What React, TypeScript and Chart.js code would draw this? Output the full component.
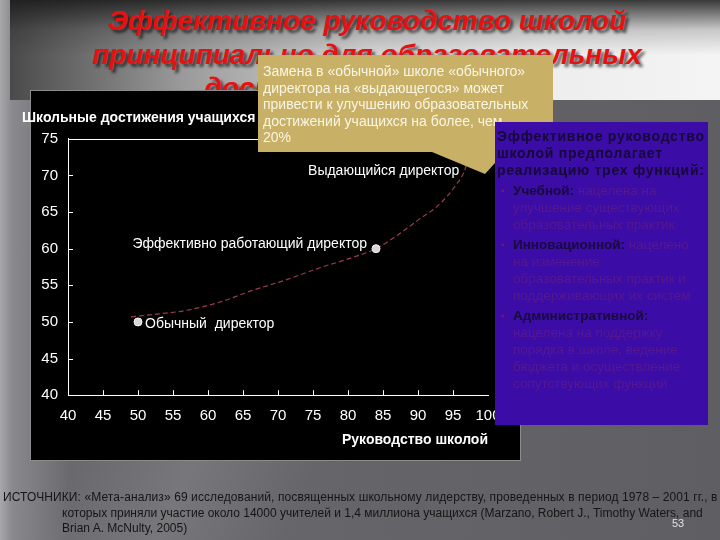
import React, { useEffect, useRef } from "react";
import { Chart, registerables } from "chart.js";

Chart.register(...registerables);

// ---- data ----
const xMin = 40;
const xMax = 100;
const yMin = 40;
const yMax = 75;
const tickStep = 5;

const curveX = [49, 53, 57, 62, 66, 71, 76, 80, 84, 87, 90, 92.5, 94.2, 95.5, 96.5, 97.3, 98];
const curveY = [50.7, 51.1, 51.6, 52.8, 54.2, 55.7, 57.4, 58.6, 60.0, 61.8, 63.9, 65.6, 67.2, 68.8, 70.3, 72.6, 75];

const pointX = [50, 84, 96.6];
const pointY = [50, 60, 70.4];
const pointLabels = ["Обычный  директор", "Эффективно работающий директор", "Выдающийся директор"];
const pointRadii = [4, 4, 0];

const yAxisTitle = "Школьные достижения учащихся";
const xAxisTitle = "Руководство школой";

const slideTitleLines = ["Эффективное руководство школой", "принципиально для образовательных", "достижений учащихся"];
const calloutLines = [
  "Замена в «обычной» школе «обычного»",
  "директора на «выдающегося» может",
  "привести к улучшению образовательных",
  "достижений учащихся на более,  чем",
  "20%",
];
const boxHeading = ["Эффективное руководство", "школой предполагает", "реализацию трех функций:"];
const boxBullets = [
  { term: "Учебной:", lines: [" нацелена на", "улучшение существующих", "образовательных практик"] },
  { term: "Инновационной:", lines: [" нацелено", "на изменение", "образовательных практик и", "поддерживающих их систем"] },
  { term: "Административной:", lines: ["", "нацелена на поддержку", "порядка в школе, ведение", "бюджета и осуществление", "сопутствующих функций"] },
];
const footerLines = [
  "ИСТОЧНИКИ: «Мета-анализ» 69 исследований, посвященных школьному лидерству, проведенных в период 1978 – 2001 гг., в",
  "которых приняли участие около 14000 учителей и 1,4 миллиона учащихся (Marzano, Robert J., Timothy Waters, and",
  "Brian A. McNulty, 2005)",
];
const pageNumber = "53";

const FONT = '"Liberation Sans", Arial, sans-serif';

export default function App() {
  const canvasRef = useRef<HTMLCanvasElement | null>(null);

  useEffect(() => {
    const canvas = canvasRef.current;
    if (!canvas) return;

    const frameTicks = {
      id: "frameTicks",
      afterDraw(chart: any) {
        const { ctx, chartArea, scales } = chart;
        const xs = scales.x;
        const ys = scales.y;
        ctx.save();
        ctx.strokeStyle = "#ffffff";
        ctx.lineWidth = 1;
        ctx.beginPath();
        ctx.moveTo(chartArea.left, Math.round(chartArea.top) + 0.5);
        ctx.lineTo(chartArea.right, Math.round(chartArea.top) + 0.5);
        ctx.stroke();
        for (let v = xMin + tickStep; v < xMax; v += tickStep) {
          const px = Math.round(xs.getPixelForValue(v)) + 0.5;
          ctx.beginPath();
          ctx.moveTo(px, chartArea.bottom);
          ctx.lineTo(px, chartArea.bottom - 5);
          ctx.stroke();
        }
        for (let v = yMin + tickStep; v < yMax; v += tickStep) {
          const py = Math.round(ys.getPixelForValue(v)) + 0.5;
          ctx.beginPath();
          ctx.moveTo(chartArea.left, py);
          ctx.lineTo(chartArea.left + 5, py);
          ctx.stroke();
        }
        ctx.restore();
      },
    };

    const labelPlugin = {
      id: "pointLabelsText",
      afterDatasetsDraw(chart: any) {
        const { ctx } = chart;
        const meta = chart.getDatasetMeta(0);
        ctx.save();
        ctx.fillStyle = "#ffffff";
        ctx.font = `14px ${FONT}`;
        ctx.textBaseline = "middle";
        meta.data.forEach((el: any, i: number) => {
          const { x, y } = el.getProps(["x", "y"], true);
          if (i === 0) {
            ctx.textAlign = "left";
            ctx.fillText(pointLabels[i], x + 7, y + 2);
          } else if (i === 1) {
            ctx.textAlign = "right";
            ctx.fillText(pointLabels[i], x - 9, y - 5);
          } else {
            ctx.textAlign = "right";
            ctx.fillText(pointLabels[i], x - 5, y - 1);
          }
        });
        ctx.restore();
      },
    };

    const chart = new Chart(canvas, {
      type: "scatter",
      data: {
        datasets: [
          {
            data: pointX.map((x, i) => ({ x, y: pointY[i] })),
            pointRadius: pointRadii,
            pointBackgroundColor: "#d6d6d6",
            pointBorderColor: "#f4f4f4",
            pointBorderWidth: 1,
            showLine: false,
            order: 0,
          },
          {
            data: curveX.map((x, i) => ({ x, y: curveY[i] })),
            showLine: true,
            borderColor: "#9c3a4a",
            borderWidth: 1.2,
            borderDash: [5, 3],
            pointRadius: 0,
            cubicInterpolationMode: "monotone",
            order: 1,
          },
        ],
      },
      options: {
        animation: false,
        responsive: false,
        devicePixelRatio: 1,
        layout: { padding: { left: 0, right: 39, top: 0, bottom: 11 } },
        plugins: {
          legend: { display: false },
          tooltip: { enabled: false },
          title: {
            display: true,
            text: yAxisTitle,
            align: "start",
            color: "#ffffff",
            font: { family: FONT, size: 14, weight: "bold" },
            padding: { top: 20, bottom: 12 },
          },
        },
        scales: {
          x: {
            type: "linear",
            min: xMin,
            max: xMax,
            ticks: {
              stepSize: tickStep,
              color: "#ffffff",
              font: { family: FONT, size: 15 },
              padding: 12,
              maxRotation: 0,
            },
            grid: { display: false, drawTicks: false },
            border: { display: true, color: "#ffffff", width: 1 },
            title: {
              display: true,
              text: xAxisTitle,
              align: "end",
              color: "#ffffff",
              font: { family: FONT, size: 14, weight: "bold" },
              padding: { top: -5, bottom: 0 },
            },
          },
          y: {
            type: "linear",
            min: yMin,
            max: yMax,
            afterFit: (s: any) => {
              s.width = 46;
            },
            ticks: {
              stepSize: tickStep,
              color: "#ffffff",
              font: { family: FONT, size: 15 },
              padding: 10,
            },
            grid: { display: false, drawTicks: false },
            border: { display: true, color: "#ffffff", width: 1 },
          },
        },
      },
      plugins: [frameTicks, labelPlugin],
    });

    return () => chart.destroy();
  }, []);

  return (
    <div
      style={{
        position: "fixed",
        left: 0,
        top: 0,
        width: 720,
        height: 540,
        overflow: "hidden",
        fontFamily: FONT,
        background:
          "linear-gradient(115deg, rgba(255,255,255,0) 30%, rgba(255,255,255,0.10) 42%, rgba(255,255,255,0) 55%), linear-gradient(90deg, #a8a8aa 0px, #8a8a8e 12px, #6a6a6e 70px, #5f5f63 100%)",
      }}
    >
      <div
        style={{
          position: "absolute",
          left: 10,
          top: 0,
          width: 710,
          height: 100,
          background:
            "linear-gradient(180deg, rgba(25,25,25,0.85) 0%, rgba(25,25,25,0.2) 30%, rgba(0,0,0,0) 55%), linear-gradient(90deg, #4a4a4a 0%, #9c9c9c 25%, #d4d4d4 50%, #ededed 75%, #f4f4f4 100%)",
        }}
      />
      <div
        style={{
          position: "absolute",
          left: 0,
          top: 4,
          width: 734,
          textAlign: "center",
          color: "#e41212",
          fontSize: 28,
          lineHeight: "33.5px",
          fontWeight: "bold",
          fontStyle: "italic",
          textShadow: "3px 3px 3px rgba(0,0,0,0.6)",
          whiteSpace: "nowrap",
        }}
      >
        {slideTitleLines.map((l, i) => (
          <div key={i}>{l}</div>
        ))}
      </div>
      <div
        style={{
          position: "absolute",
          left: 30,
          top: 90,
          width: 489,
          height: 369,
          background: "#000000",
          border: "1px solid #8c8c8c",
        }}
      />
      <canvas
        ref={canvasRef}
        width={505}
        height={370}
        style={{ position: "absolute", left: 22, top: 90, width: 505, height: 370 }}
      />
      <svg width={720} height={540} style={{ position: "absolute", left: 0, top: 0 }}>
        <polygon points="258,55 553,55 553,152 505,152 485,174 432,152 258,152" fill="#c8b166" />
      </svg>
      <div
        style={{
          position: "absolute",
          left: 263,
          top: 63,
          color: "#fbf5e4",
          fontSize: 14,
          lineHeight: "16.6px",
          whiteSpace: "nowrap",
        }}
      >
        {calloutLines.map((l, i) => (
          <div key={i}>{l}</div>
        ))}
      </div>
      <div
        style={{
          position: "absolute",
          left: 495,
          top: 122,
          width: 213,
          height: 303,
          background: "#3c0ca6",
          boxSizing: "border-box",
          paddingTop: 6,
          paddingLeft: 2,
          whiteSpace: "nowrap",
          overflow: "hidden",
        }}
      >
        <div style={{ fontWeight: "bold", fontSize: 14, lineHeight: "17px", color: "#160838", letterSpacing: 0.75 }}>
          {boxHeading.map((l, i) => (
            <div key={i}>{l}</div>
          ))}
        </div>
        {boxBullets.map((b, i) => (
          <div key={i} style={{ position: "relative", paddingLeft: 16, marginTop: 3, fontSize: 13.5, lineHeight: "17px", color: "#56188e" }}>
            <span style={{ position: "absolute", left: 4, top: 0, color: "#7a1650", fontSize: 10 }}>▪</span>
            <div>
              <span style={{ fontWeight: "bold", color: "#180a3c" }}>{b.term}</span>
              {b.lines[0]}
            </div>
            {b.lines.slice(1).map((l, j) => (
              <div key={j}>{l}</div>
            ))}
          </div>
        ))}
      </div>
      <div
        style={{
          position: "absolute",
          left: 3,
          top: 490,
          color: "#151515",
          fontSize: 12,
          lineHeight: "15.5px",
          whiteSpace: "nowrap",
        }}
      >
        <div style={{ letterSpacing: 0.1 }}>{footerLines[0]}</div>
        <div style={{ paddingLeft: 59 }}>{footerLines[1]}</div>
        <div style={{ paddingLeft: 59 }}>{footerLines[2]}</div>
      </div>
      <div style={{ position: "absolute", left: 672, top: 517, color: "#e0e0e0", fontSize: 11 }}>{pageNumber}</div>
    </div>
  );
}
